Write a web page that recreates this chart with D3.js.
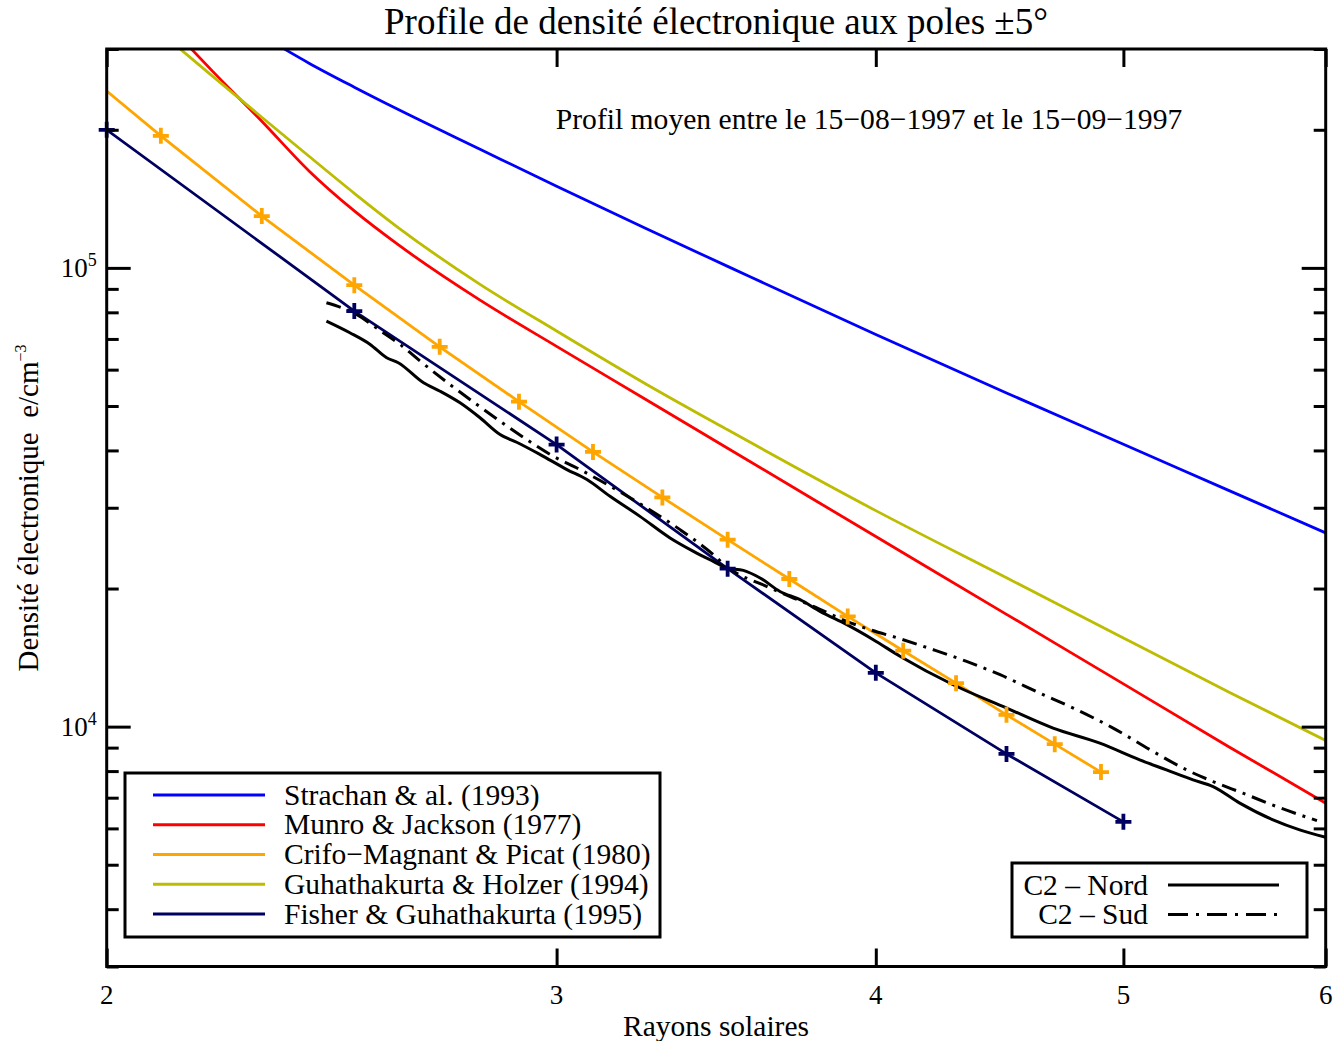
<!DOCTYPE html>
<html>
<head>
<meta charset="utf-8">
<script src="https://cdn.jsdelivr.net/npm/d3@7"></script>
<style>
  body { margin: 0; background: #fff; }
  svg { display: block; }
  text { font-family: "Liberation Serif", "Times New Roman", serif; fill: #000; }
</style>
</head>
<body>
<svg id="chart" width="1336" height="1041"></svg>
<script>
// ---- Density profiles (r in solar radii, n in electrons / cm^3) ----
const strachanR = [2.344, 2.4, 2.5, 2.6, 2.8, 3.0, 3.25, 3.5, 4.0, 4.5, 5.0, 5.5, 6.0];
const strachanN = [3.013e5, 2.794e5, 2.477e5, 2.217e5, 1.814e5, 1.506e5, 1.2196e5, 1.0076e5, 7.16e4, 5.337e4, 4.128e4, 3.269e4, 2.644e4];

const munroR = [2.157, 2.2, 2.3, 2.4, 2.5, 2.6, 2.8, 3.0, 3.25, 3.5, 4.0, 4.5, 5.0, 5.5, 6.0];
const munroN = [3.013e5, 2.685e5, 2.088e5, 1.627e5, 1.331e5, 1.125e5, 8.505e4, 6.745e4, 5.172e4, 4.044e4, 2.597e4, 1.757e4, 1.2395e4, 9030, 6811];

const crifoR = [2.0, 2.1, 2.3, 2.5, 2.7, 2.9, 3.1, 3.3, 3.5, 3.7, 3.9, 4.1, 4.3, 4.5, 4.7, 4.9];
const crifoN = [2.43e5, 1.94e5, 1.297e5, 9.17e4, 6.73e4, 5.11e4, 3.97e4, 3.16e4, 2.556e4, 2.098e4, 1.739e4, 1.464e4, 1.244e4, 1.061e4, 9158, 7959];

const guhaR = [2.135, 2.2, 2.3, 2.4, 2.5, 2.6, 2.8, 3.0, 3.25, 3.5, 4.0, 4.5, 5.0, 5.5, 6.0];
const guhaN = [3.013e5, 2.618e5, 2.130e5, 1.751e5, 1.454e5, 1.226e5, 9.206e4, 7.285e4, 5.592e4, 4.436e4, 2.957e4, 2.111e4, 1.560e4, 1.189e4, 9326];

const fisherR = [2.0, 2.5, 3.0, 3.5, 4.0, 4.5, 5.0];
const fisherN = [2.0e5, 8.05e4, 4.12e4, 2.21e4, 1.31e4, 8720, 6200];

// LASCO C2 measured profiles
const nordR = [2.438, 2.490, 2.536, 2.574, 2.601, 2.661, 2.701, 2.750, 2.800, 2.851, 2.894, 2.956, 3.028, 3.083, 3.148, 3.234, 3.323, 3.394, 3.455, 3.497, 3.550, 3.604, 3.669, 3.736, 3.804, 3.897, 3.991, 4.088, 4.289, 4.501, 4.693, 4.895, 5.074, 5.198, 5.324, 5.421, 5.553, 5.722, 5.861, 6.0];
const nordN = [7.655e4, 7.221e4, 6.810e4, 6.370e4, 6.212e4, 5.617e4, 5.385e4, 5.080e4, 4.712e4, 4.332e4, 4.168e4, 3.918e4, 3.634e4, 3.456e4, 3.177e4, 2.873e4, 2.578e4, 2.410e4, 2.292e4, 2.218e4, 2.191e4, 2.109e4, 1.971e4, 1.891e4, 1.783e4, 1.668e4, 1.547e4, 1.424e4, 1.234e4, 1.0975e4, 9925, 9204, 8463, 8048, 7655, 7402, 6811, 6261, 5955, 5741];

const sudR = [2.438, 2.498, 2.566, 2.605, 2.653, 2.725, 2.792, 2.851, 2.920, 2.991, 3.064, 3.120, 3.254, 3.353, 3.455, 3.497, 3.625, 3.714, 3.781, 3.897, 3.979, 4.088, 4.213, 4.341, 4.474, 4.637, 4.779, 4.954, 5.136, 5.293, 5.421, 5.569, 5.740, 5.953];
const sudN = [8.395e4, 7.984e4, 7.221e4, 6.810e4, 6.262e4, 5.569e4, 5.037e4, 4.632e4, 4.225e4, 3.885e4, 3.634e4, 3.439e4, 2.997e4, 2.688e4, 2.371e4, 2.232e4, 2.022e4, 1.907e4, 1.829e4, 1.696e4, 1.627e4, 1.555e4, 1.471e4, 1.3872e4, 1.2975e4, 1.1833e4, 1.0975e4, 9925, 8825, 8048, 7590, 7160, 6695, 6239];

// ---- Axis ticks ----
const xTickValues = [2, 3, 4, 5, 6];
const xTickLabels = ["2", "3", "4", "5", "6"];
const yMajorTicks = [1e4, 1e5];
const yMajorExponents = ["4", "5"];
const yMinorTicks = [3000, 4000, 5000, 6000, 7000, 8000, 9000,
                     2e4, 3e4, 4e4, 5e4, 6e4, 7e4, 8e4, 9e4, 2e5, 3e5];

// ---- Legend entries ----
const modelNames = ["Strachan & al. (1993)", "Munro & Jackson (1977)", "Crifo\u2212Magnant & Picat (1980)",
                    "Guhathakurta & Holzer (1994)", "Fisher & Guhathakurta (1995)"];
const modelColors = ["#0000ff", "#ff0000", "#ffa500", "#bcbc00", "#000060"];
const c2Names = ["C2 \u2013 Nord", "C2 \u2013 Sud"];

const plot = { left: 106.7, right: 1325.7, top: 49, bottom: 966.5 };

const x = d3.scaleLog().domain([2, 6]).range([plot.left, plot.right]);
const y = d3.scaleLog().domain([3000, 3e5]).range([plot.bottom, plot.top]);

const svg = d3.select("#chart");

svg.append("defs").append("clipPath").attr("id", "plotClip")
  .append("rect")
  .attr("x", plot.left).attr("y", plot.top)
  .attr("width", plot.right - plot.left).attr("height", plot.bottom - plot.top);

const zip = (rs, ns) => rs.map((r, i) => ({ r, n: ns[i] }));
const smoothLine = d3.line().x(d => x(d.r)).y(d => y(d.n)).curve(d3.curveMonotoneX);
const straightLine = d3.line().x(d => x(d.r)).y(d => y(d.n));

const curves = svg.append("g").attr("clip-path", "url(#plotClip)");

// analytic model curves (smooth) and tabulated ones (point to point)
const models = [
  { data: zip(strachanR, strachanN), color: modelColors[0], gen: smoothLine },
  { data: zip(munroR, munroN), color: modelColors[1], gen: smoothLine },
  { data: zip(guhaR, guhaN), color: modelColors[3], gen: smoothLine },
  { data: zip(crifoR, crifoN), color: modelColors[2], gen: straightLine },
  { data: zip(fisherR, fisherN), color: modelColors[4], gen: straightLine }
];
models.forEach(m => {
  curves.append("path").datum(m.data)
    .attr("fill", "none").attr("stroke", m.color)
    .attr("stroke-width", 2.8).attr("stroke-linejoin", "round")
    .attr("d", m.gen);
});

// measured C2 profiles
curves.append("path").datum(zip(nordR, nordN))
  .attr("fill", "none").attr("stroke", "#000").attr("stroke-width", 3)
  .attr("stroke-linejoin", "round").attr("d", smoothLine);
curves.append("path").datum(zip(sudR, sudN))
  .attr("fill", "none").attr("stroke", "#000").attr("stroke-width", 3)
  .attr("stroke-dasharray", "15,7,3,7")
  .attr("stroke-linejoin", "round").attr("d", smoothLine);

// plus-shaped symbols on the tabulated models
const plus = "M-8,0H8M0,-8V8";
const markerSets = [
  { data: zip(crifoR, crifoN).slice(1), color: modelColors[2] },   // first sample only anchors the line at r = 2
  { data: zip(fisherR, fisherN), color: modelColors[4] }
];
const markG = svg.append("g");
markerSets.forEach(s => {
  markG.selectAll(null).data(s.data).enter().append("path")
    .attr("transform", d => `translate(${x(d.r)},${y(d.n)})`)
    .attr("d", plus).attr("stroke", s.color).attr("stroke-width", 3.8).attr("fill", "none");
});

// ---- Frame and ticks ----
const yLeft = d3.axisLeft(y).tickValues(yMajorTicks).tickSize(-24).tickFormat("");
const yLeftMinor = d3.axisLeft(y).tickValues(yMinorTicks).tickSize(-12).tickFormat("");
const yRight = d3.axisRight(y).tickValues(yMajorTicks).tickSize(-24).tickFormat("");
const yRightMinor = d3.axisRight(y).tickValues(yMinorTicks).tickSize(-12).tickFormat("");
const xBottom = d3.axisBottom(x).tickValues(xTickValues).tickSize(-18).tickFormat("");
const xTop = d3.axisTop(x).tickValues(xTickValues).tickSize(-18).tickFormat("");

[[yLeft, `translate(${plot.left},0)`], [yLeftMinor, `translate(${plot.left},0)`],
 [yRight, `translate(${plot.right},0)`], [yRightMinor, `translate(${plot.right},0)`],
 [xBottom, `translate(0,${plot.bottom})`], [xTop, `translate(0,${plot.top})`]].forEach(([ax, tr]) => {
  const g = svg.append("g").attr("transform", tr).call(ax);
  g.select(".domain").remove();
  g.selectAll(".tick line").attr("stroke", "#000").attr("stroke-width", 3);
});

svg.append("rect")
  .attr("x", plot.left).attr("y", plot.top)
  .attr("width", plot.right - plot.left).attr("height", plot.bottom - plot.top)
  .attr("fill", "none").attr("stroke", "#000").attr("stroke-width", 3);

// tick labels
svg.append("g").selectAll("text").data(xTickValues).enter().append("text")
  .attr("x", d => x(d)).attr("y", plot.bottom + 37)
  .attr("text-anchor", "middle").attr("font-size", 27)
  .text((d, i) => xTickLabels[i]);

const yLab = svg.append("g").selectAll("text").data(yMajorTicks).enter().append("text")
  .attr("x", plot.left - 10).attr("y", d => y(d) + 9)
  .attr("text-anchor", "end").attr("font-size", 27);
yLab.append("tspan").text("10");
yLab.append("tspan").attr("font-size", 18).attr("dy", -11).text((d, i) => yMajorExponents[i]);

// ---- Titles ----
svg.append("text").attr("x", 716).attr("y", 34).attr("text-anchor", "middle")
  .attr("font-size", 37).text("Profile de densit\u00e9 \u00e9lectronique aux poles \u00b15\u00b0");

svg.append("text").attr("x", 869).attr("y", 129).attr("text-anchor", "middle")
  .attr("font-size", 29.6).text("Profil moyen entre le 15\u221208\u22121997 et le 15\u221209\u22121997");

svg.append("text").attr("x", 716).attr("y", 1036).attr("text-anchor", "middle")
  .attr("font-size", 29.5).text("Rayons solaires");

const yt = svg.append("text")
  .attr("transform", "translate(38,508) rotate(-90)")
  .attr("text-anchor", "middle").attr("font-size", 29);
yt.append("tspan").text("Densit\u00e9 \u00e9lectronique\u00a0\u00a0e/cm");
yt.append("tspan").attr("font-size", 16).attr("dy", -12).text("\u22123");

// ---- Legend: models ----
const leg = svg.append("g");
leg.append("rect").attr("x", 125).attr("y", 773).attr("width", 535).attr("height", 164)
  .attr("fill", "#fff").attr("stroke", "#000").attr("stroke-width", 3);
modelNames.forEach((name, i) => {
  const ly = 795 + i * 29.75;
  leg.append("line").attr("x1", 153).attr("x2", 265).attr("y1", ly).attr("y2", ly)
    .attr("stroke", modelColors[i]).attr("stroke-width", 2.8);
  leg.append("text").attr("x", 284).attr("y", ly + 9.5).attr("font-size", 29.5).text(name);
});

// ---- Legend: C2 profiles ----
const leg2 = svg.append("g");
leg2.append("rect").attr("x", 1012).attr("y", 863).attr("width", 295).attr("height", 74)
  .attr("fill", "#fff").attr("stroke", "#000").attr("stroke-width", 3);
c2Names.forEach((name, i) => {
  const ly = 885 + i * 29.5;
  leg2.append("text").attr("x", 1148).attr("y", ly + 9.5).attr("text-anchor", "end")
    .attr("font-size", 29.5).text(name);
  leg2.append("line").attr("x1", 1168).attr("x2", 1279).attr("y1", ly).attr("y2", ly)
    .attr("stroke", "#000").attr("stroke-width", 3)
    .attr("stroke-dasharray", i === 0 ? null : "20,8,3,8");
});
</script>
</body>
</html>
